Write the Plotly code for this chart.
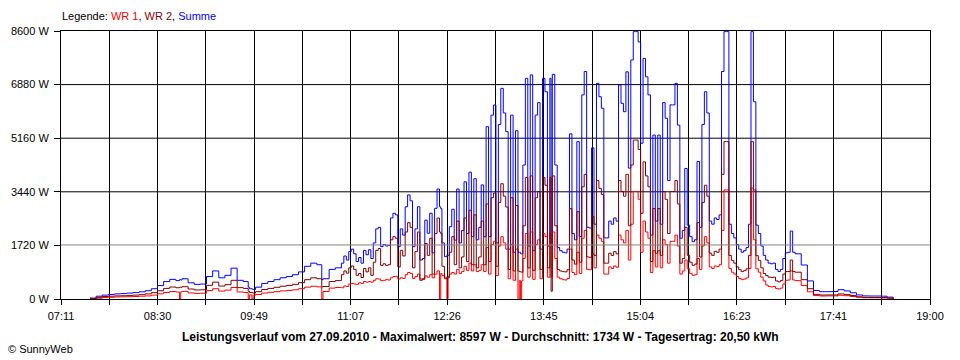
import plotly.graph_objects as go

# ---------------- data ----------------
TIMES = [
    "07:35", "07:40", "07:45", "07:50", "07:55", "08:00", "08:05", "08:10", "08:15", "08:20",
    "08:25", "08:30", "08:35", "08:40", "08:45", "08:48", "08:49", "08:50", "08:55", "09:00",
    "09:05", "09:10", "09:15", "09:20", "09:25", "09:30", "09:35", "09:40", "09:44", "09:45",
    "09:47", "09:48", "09:50", "09:55", "10:00", "10:05", "10:10", "10:15", "10:20", "10:25",
    "10:30", "10:35", "10:40", "10:44", "10:45", "10:50", "10:55",
    "11:00", "11:02", "11:04", "11:06", "11:08", "11:10", "11:12", "11:14", "11:16", "11:18",
    "11:20", "11:22", "11:24", "11:26", "11:28", "11:30", "11:32", "11:34", "11:36", "11:38",
    "11:40", "11:42", "11:44", "11:46", "11:48", "11:50", "11:52", "11:54", "11:56", "11:58",
    "12:00", "12:02", "12:04", "12:06", "12:08", "12:10", "12:12", "12:14", "12:16", "12:18",
    "12:20", "12:21", "12:22", "12:24", "12:26", "12:27", "12:28", "12:30", "12:32", "12:34",
    "12:36", "12:38", "12:40", "12:42", "12:44", "12:46", "12:48", "12:50", "12:52", "12:54",
    "12:56", "12:58", "13:00", "13:02", "13:04", "13:06", "13:08", "13:10", "13:12", "13:14",
    "13:16", "13:18", "13:20", "13:22", "13:24", "13:25", "13:26", "13:27", "13:28", "13:30",
    "13:32", "13:34", "13:36", "13:38", "13:40", "13:42", "13:44", "13:46", "13:48", "13:50",
    "13:51", "13:52", "13:54", "13:56", "13:58", "14:00", "14:02", "14:04", "14:06", "14:08",
    "14:10", "14:12", "14:14", "14:16", "14:18", "14:20", "14:22", "14:24", "14:26", "14:28",
    "14:30", "14:32", "14:34", "14:36", "14:38", "14:40", "14:42", "14:44", "14:46", "14:48",
    "14:50", "14:52", "14:54", "14:56", "14:58", "15:00", "15:02", "15:04", "15:06", "15:08",
    "15:10", "15:12", "15:14", "15:16", "15:18", "15:20", "15:22", "15:24", "15:26", "15:28",
    "15:30", "15:32", "15:34", "15:36", "15:38", "15:40", "15:42", "15:44", "15:46", "15:48",
    "15:50", "15:52", "15:54", "15:56", "15:58", "16:00", "16:02", "16:04", "16:06", "16:08",
    "16:10", "16:12", "16:14", "16:16", "16:18", "16:20", "16:22", "16:24", "16:26", "16:28",
    "16:30", "16:32", "16:34", "16:36", "16:38", "16:40", "16:42", "16:44", "16:46", "16:48",
    "16:50", "16:52", "16:54", "16:56", "16:58", "17:00", "17:02", "17:04", "17:06", "17:08",
    "17:10", "17:15", "17:20", "17:25", "17:30", "17:35", "17:40", "17:45", "17:50", "17:55",
    "18:00", "18:05", "18:10", "18:15", "18:20", "18:25", "18:30",
]

SUMME = [
    30, 90, 125, 145, 165, 175, 190, 205, 230, 265,
    330, 430, 560, 630, 590, 620, 610, 650, 520, 470,
    480, 720, 900, 680, 760, 990, 600, 560, 380, 330,
    320, 300, 380, 500, 560, 620, 680, 720, 780, 870,
    1050, 1150, 1100, 620, 650, 950, 1000,
    1150, 1380, 1250, 1520, 1600, 1450, 1200, 1330, 1150, 1560,
    1420, 1580, 1300, 1800, 2250, 2300, 1680, 1750, 1700, 1720,
    2600, 2750, 2700, 1680, 2250, 2050, 2960, 3340, 3150, 1680,
    2250, 2960, 1250, 1300, 2530, 2110, 2750, 1480, 2910, 3530,
    2960, 2900, 1800, 1360, 1400, 1400, 2320, 2880, 1890, 3530,
    1800, 2200, 3760, 2100, 4070, 2000, 3860, 1900, 2300, 3660,
    2000, 5530, 2000, 5900, 6225, 1800, 5600, 6760, 5970, 5370,
    1600, 5900, 1500, 5400, 1500, 1500, 1450, 1450, 4300, 7080,
    1700, 7190, 1550, 5900, 6300, 1600, 7080, 6650, 1700, 7080,
    1800, 7210, 4300, 1650, 1550, 1500, 1480, 1600, 5300, 2100,
    1900, 5050, 2000, 6550, 7300, 2300, 2280, 4850, 2400, 6920,
    6490, 6120, 1960, 1960, 2500, 2400, 2600, 2500, 6870, 6280,
    6010, 7290, 4200, 7670, 8580, 8580, 8250, 5000, 7720, 7130,
    6550, 2050, 5260, 2500, 5260, 2400, 6300, 5800, 3800, 6230,
    6230, 6920, 5580, 1950, 2200, 4190, 2370, 2000, 1840, 1900,
    4410, 2300, 5600, 6650, 5970, 2500, 2400, 2600, 2550, 2700,
    7300, 8580, 8580, 2400, 2100, 1960, 1750, 1600, 1500, 1550,
    1650, 2400, 8580, 6330, 2370, 2100, 1700, 1400, 1250, 1150,
    1130, 1150, 950, 880, 950, 1300, 1480, 1500, 2180, 1500,
    1450, 1090, 580, 270, 235, 235, 240, 300, 260, 200,
    130, 100, 96, 96, 90, 60, 0,
]

WR2 = [
    15, 55, 80, 90, 100, 105, 115, 125, 140, 165,
    205, 265, 340, 385, 360, 380, 375, 395, 320, 290,
    295, 440, 540, 415, 460, 600, 365, 340, 250, 210,
    205, 190, 235, 305, 340, 375, 410, 435, 470, 525,
    620, 680, 650, 390, 400, 560, 590,
    780, 900, 830, 1000, 1060, 950, 760, 820, 690, 980,
    870, 1000, 760, 1180, 1560, 1620, 1080, 1130, 1080, 1100,
    1900, 2000, 1950, 1030, 1560, 1380, 2150, 2450, 2300, 1000,
    1520, 2150, 600, 630, 1780, 1400, 1950, 800, 2100, 2600,
    2150, 2100, 1050, 650, 680, 680, 1500, 2000, 1100, 2500,
    1000, 1350, 2600, 1200, 2850, 1100, 2700, 1000, 1350, 2500,
    1100, 3050, 1200, 3250, 3400, 1050, 3100, 3700, 3300, 2950,
    950, 3250, 900, 3000, 900, 880, 870, 860, 2350, 3900,
    1000, 3950, 920, 3250, 3450, 950, 3900, 3650, 1000, 3900,
    250, 3950, 2350, 950, 900, 880, 870, 940, 2900, 1250,
    1120, 2800, 1180, 3600, 4000, 1350, 1340, 2650, 1400, 3800,
    3550, 3350, 1150, 1150, 1470, 1400, 1520, 1450, 3800, 3450,
    3300, 4000, 2350, 4300, 5100, 5100, 4800, 2750, 4400, 3950,
    3600, 1200, 2900, 1470, 2900, 1400, 3450, 3200, 2100, 3450,
    3450, 3800, 3050, 1150, 1300, 2300, 1400, 1180, 1080, 1120,
    2450, 1350, 3100, 3650, 3300, 1470, 1400, 1530, 1500, 1600,
    4000, 5050, 5050, 1400, 1240, 1150, 1030, 940, 880, 910,
    970, 1400, 5050, 3500, 1390, 1240, 1000, 820, 750, 700,
    690, 700, 580, 550, 590, 800, 880, 880, 1250, 880,
    860, 620, 330, 150, 128, 130, 130, 165, 140, 110,
    70, 55, 50, 50, 45, 30, 0,
]

WR1 = [
    0, 25, 45, 55, 65, 70, 75, 80, 90, 100,
    125, 165, 210, 240, 225, 0, 230, 245, 195, 180,
    185, 270, 330, 255, 285, 370, 225, 210, 0, 130,
    0, 120, 145, 190, 215, 235, 260, 275, 295, 330,
    380, 410, 390, 0, 240, 350, 370,
    360, 420, 400, 480, 500, 480, 470, 520, 500, 560,
    540, 560, 540, 600, 650, 640, 590, 600, 620, 610,
    680, 720, 730, 640, 680, 660, 780, 850, 820, 660,
    720, 800, 640, 660, 740, 700, 780, 680, 800, 900,
    0, 820, 750, 700, 0, 720, 800, 850, 800, 950,
    820, 880, 1050, 920, 1150, 900, 1100, 880, 920, 1100,
    880, 1650, 800, 1750, 1850, 750, 1700, 2000, 1800, 1600,
    650, 1750, 600, 1600, 0, 600, 0, 580, 1300, 2100,
    700, 2150, 630, 1750, 1900, 650, 2100, 2000, 700, 2100,
    700, 2150, 1300, 700, 650, 620, 610, 660, 1600, 850,
    780, 1500, 820, 1950, 2200, 950, 940, 1450, 1000, 2050,
    1950, 1850, 800, 800, 1030, 980, 1060, 1020, 2050, 1900,
    1800, 2200, 1250, 2400, 3450, 3450, 3200, 1500, 2500, 2150,
    1950, 850, 1550, 1030, 1550, 1000, 1900, 1750, 1150, 1850,
    1850, 2050, 1700, 800, 900, 1250, 970, 820, 760, 780,
    1300, 950, 1700, 2000, 1800, 1030, 980, 1060, 1040, 1100,
    2200, 3500, 3500, 980, 860, 800, 720, 660, 620, 640,
    680, 980, 3560, 1900, 970, 860, 700, 580, 450, 400,
    390, 400, 340, 320, 350, 480, 600, 610, 900, 610,
    590, 430, 230, 110, 96, 100, 100, 120, 105, 80,
    55, 40, 40, 40, 35, 25, 0,
]

X_LABELS = ["07:11", "08:30", "09:49", "11:07", "12:26", "13:45", "15:04", "16:23", "17:41", "19:00"]
Y_TICKS = [0, 1720, 3440, 5160, 6880, 8600]
AVERAGE_W = 1734
TITLE = ("Leistungsverlauf vom 27.09.2010 - Maximalwert: 8597 W - "
         "Durchschnitt: 1734 W - Tagesertrag: 20,50 kWh")

# ---------------- figure ----------------
def to_min(t):
    h, m = t.split(":")
    return int(h) * 60 + int(m)

xs = [to_min(t) for t in TIMES]
X0 = to_min("07:11") + 1 / 3
X1 = to_min("19:00")
step = (X1 - X0) / 18
tick_vals = [X0 + k * step for k in range(19)]
tick_text = [X_LABELS[k // 2] if k % 2 == 0 else "" for k in range(19)]

FONT = "Liberation Sans, Arial, sans-serif"

fig = go.Figure()
fig.add_trace(go.Scatter(x=xs, y=SUMME, name="Summe", mode="lines",
                         line=dict(color="#0000FF", width=1, shape="hv")))
fig.add_trace(go.Scatter(x=xs, y=WR1, name="WR 1", mode="lines",
                         line=dict(color="#FF0000", width=1, shape="hv")))
fig.add_trace(go.Scatter(x=xs, y=WR2, name="WR 2", mode="lines",
                         line=dict(color="#800000", width=1, shape="hv")))

# horizontal grid lines (the one hidden under the average line is skipped)
for v in Y_TICKS[1:-1]:
    if abs(v - AVERAGE_W) > 50:
        fig.add_shape(type="line", xref="paper", yref="y", x0=0, x1=1, y0=v, y1=v,
                      line=dict(color="black", width=1), layer="below")

# average line, drawn over the data
fig.add_shape(type="line", xref="paper", yref="y", x0=0, x1=1, y0=AVERAGE_W, y1=AVERAGE_W,
              line=dict(color="#808080", width=1), layer="above")

fig.update_layout(
    width=960, height=360,
    margin=dict(l=61, r=30, t=31, b=61),
    paper_bgcolor="white", plot_bgcolor="white",
    showlegend=False,
    font=dict(family=FONT, size=11, color="black"),
    xaxis=dict(range=[X0, X1], tickmode="array", tickvals=tick_vals, ticktext=tick_text,
               showgrid=True, gridcolor="black", gridwidth=1,
               showline=True, linecolor="black", linewidth=1, mirror=True,
               ticks="outside", ticklen=5, tickcolor="black", tickwidth=1,
               zeroline=False, ticklabelstandoff=2),
    yaxis=dict(range=[0, 8600], tickmode="array", tickvals=Y_TICKS,
               ticktext=[f"{v} W" for v in Y_TICKS],
               showgrid=False,
               showline=True, linecolor="black", linewidth=1, mirror=True,
               ticks="outside", ticklen=6, tickcolor="black", tickwidth=1,
               zeroline=False, ticklabelstandoff=3),
)

fig.add_annotation(
    text=("Legende: <span style='color:#FF0000'>WR 1</span>, "
          "<span style='color:#800000'>WR 2</span>, "
          "<span style='color:#0000FF'>Summe</span>"),
    xref="paper", yref="paper", x=-1 / 869, y=(299 - 16.5) / 268,
    xanchor="left", yanchor="middle", showarrow=False,
    font=dict(family=FONT, size=11, color="black"))

fig.add_annotation(
    text=f"<b>{TITLE}</b>", xref="paper", yref="paper",
    x=(480 - 61) / 869, y=-(337 - 299) / 268, xanchor="center", yanchor="middle",
    showarrow=False, font=dict(family=FONT, size=12, color="black"))

fig.add_annotation(
    text="© SunnyWeb", xref="paper", yref="paper",
    x=(6 - 61) / 869, y=-(349 - 299) / 268, xanchor="left", yanchor="middle",
    showarrow=False, font=dict(family=FONT, size=11, color="black"))

fig.write_html("out.html", config={"displayModeBar": False, "staticPlot": True})

# remove the browser's default page margin so the figure sits at (0, 0)
with open("out.html", "r", encoding="utf-8") as f:
    html = f.read()
html = html.replace("<head>", "<head><style>html,body{margin:0;padding:0;}</style>", 1)
with open("out.html", "w", encoding="utf-8") as f:
    f.write(html)
